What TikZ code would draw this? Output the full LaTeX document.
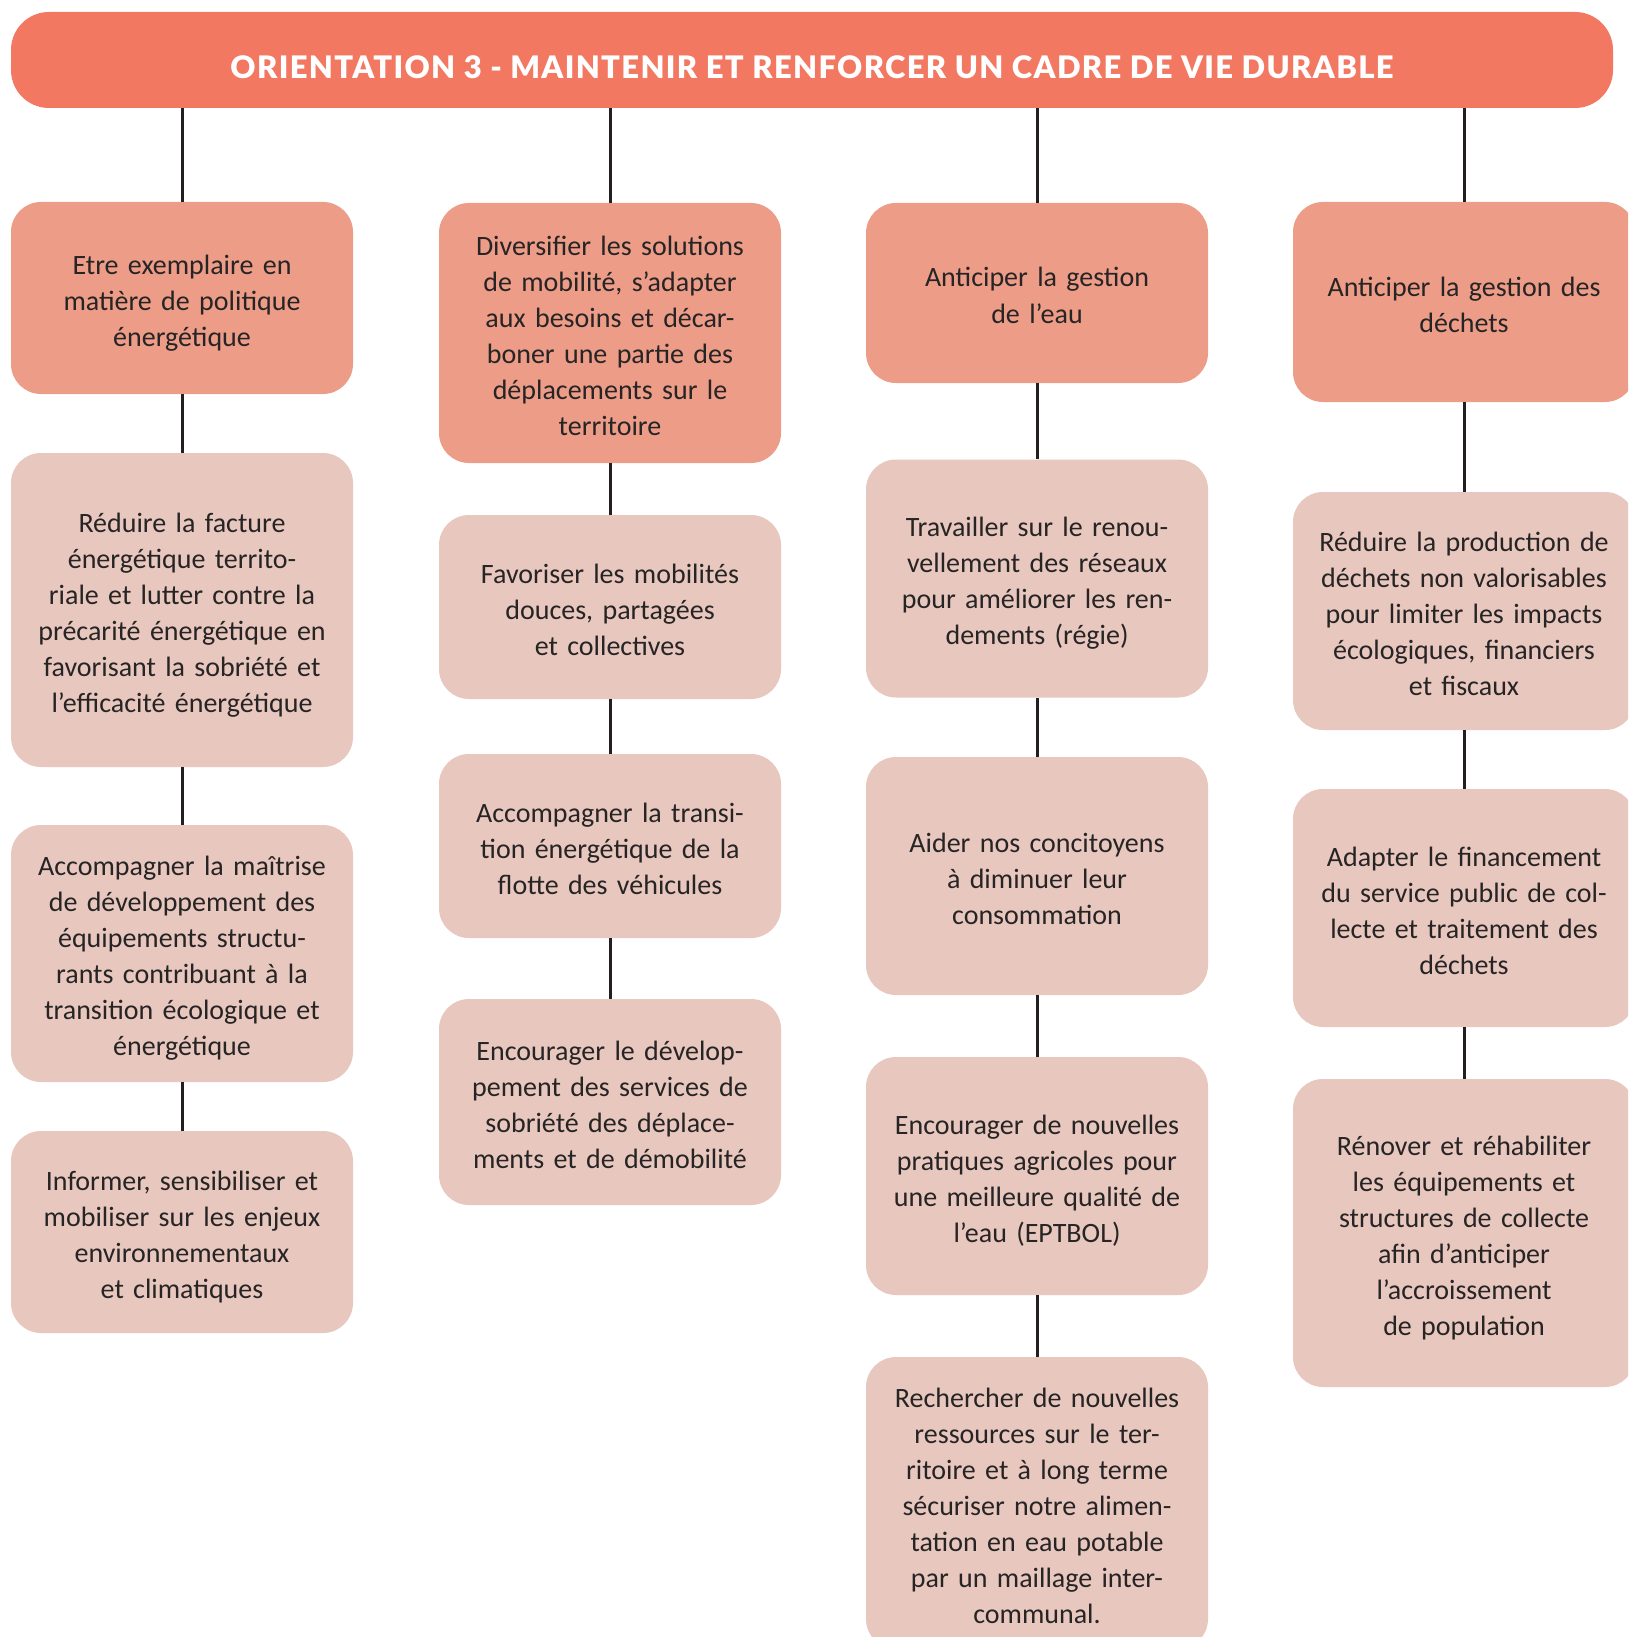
\documentclass[tikz,border=0pt]{standalone}
\usepackage{fontspec}
\setmainfont{Carlito}
\newfontfamily\hdrfont[LetterSpace=4.3, BoldFont={Lato Black}]{Lato}
\definecolor{hdrc}{RGB}{242,120,98}
\definecolor{darkc}{RGB}{237,156,136}
\definecolor{lightc}{RGB}{232,199,190}
\definecolor{txtc}{RGB}{38,36,36}
\definecolor{linec}{RGB}{35,31,32}
\begin{document}
\begin{tikzpicture}[x=1pt,y=-1pt,
  box/.style={rounded corners=30pt, minimum width=342pt, text width=330pt, align=center,
    inner sep=0pt, font=\fontsize{28}{36}\selectfont, text=txtc,
    execute at begin node={\rule{0pt}{30pt}},
    execute at end node={\rule[-6pt]{0pt}{6pt}}},
  topbox/.style={box, fill=darkc, minimum height=#1},
  subbox/.style={box, fill=lightc, minimum height=#1},
  conn/.style={draw=linec, line width=3pt}]
\clip (0,0) rectangle (1628,1637);
\fill[white] (0,0) rectangle (1628,1637);
\node[fill=hdrc, rounded corners=38pt, minimum width=1602pt, minimum height=96pt, inner sep=0pt] (hdr) at (812,60) {};
\node[anchor=base, text=white, inner sep=0pt, font=\hdrfont\bfseries\fontsize{31}{36}\selectfont] (title) at (812,79) {ORIENTATION 3 - MAINTENIR ET RENFORCER UN CADRE DE VIE DURABLE};

% Column 1
\node[topbox=192pt] (b11) at (182,298) {Etre exemplaire en\\matière de politique\\énergétique};
\node[subbox=314pt] (b12) at (182,610) {Réduire la facture\\énergétique territo-\\riale et lutter contre la\\précarité énergétique en\\favorisant la sobriété et\\l’efficacité énergétique};
\node[subbox=257pt] (b13) at (182,953.5) {Accompagner la maîtrise\\de développement des\\équipements structu-\\rants contribuant à la\\transition écologique et\\énergétique};
\node[subbox=202pt] (b14) at (182,1232) {Informer, sensibiliser et\\mobiliser sur les enjeux\\environnementaux\\et climatiques};

% Column 2
\node[topbox=260pt] (b21) at (610,333) {Diversifier les solutions\\de mobilité, s’adapter\\aux besoins et décar-\\boner une partie des\\déplacements sur le\\territoire};
\node[subbox=184pt] (b22) at (610,607) {Favoriser les mobilités\\douces, partagées\\et collectives};
\node[subbox=184pt] (b23) at (610,846) {Accompagner la transi-\\tion énergétique de la\\flotte des véhicules};
\node[subbox=206pt] (b24) at (610,1102) {Encourager le dévelop-\\pement des services de\\sobriété des déplace-\\ments et de démobilité};

% Column 3
\node[topbox=180pt] (b31) at (1037,293) {Anticiper la gestion\\de l’eau};
\node[subbox=238pt] (b32) at (1037,578.5) {Travailler sur le renou-\\vellement des réseaux\\pour améliorer les ren-\\dements (régie)};
\node[subbox=238pt] (b33) at (1037,876) {Aider nos concitoyens\\à diminuer leur\\consommation};
\node[subbox=238pt] (b34) at (1037,1176) {Encourager de nouvelles\\pratiques agricoles pour\\une meilleure qualité de\\l’eau (EPTBOL)};
\node[subbox=292pt] (b35) at (1037,1503) {Rechercher de nouvelles\\ressources sur le ter-\\ritoire et à long terme\\sécuriser notre alimen-\\tation en eau potable\\par un maillage inter-\\communal.};

% Column 4
\node[topbox=200pt] (b41) at (1464,302) {Anticiper la gestion des\\déchets};
\node[subbox=238pt] (b42) at (1464,611) {Réduire la production de\\déchets non valorisables\\pour limiter les impacts\\écologiques, financiers\\et fiscaux};
\node[subbox=238pt] (b43) at (1464,908) {Adapter le financement\\du service public de col-\\lecte et traitement des\\déchets};
\node[subbox=308pt] (b44) at (1464,1233) {Rénover et réhabiliter\\les équipements et\\structures de collecte\\afin d’anticiper\\l’accroissement\\de population};

% Connectors
\foreach \c in {b11,b21,b31,b41}
  \draw[conn] (\c.north |- hdr.south) -- (\c.north);
\draw[conn] (b11.south) -- (b12.north);
\draw[conn] (b12.south) -- (b13.north);
\draw[conn] (b13.south) -- (b14.north);
\draw[conn] (b21.south) -- (b22.north);
\draw[conn] (b22.south) -- (b23.north);
\draw[conn] (b23.south) -- (b24.north);
\draw[conn] (b31.south) -- (b32.north);
\draw[conn] (b32.south) -- (b33.north);
\draw[conn] (b33.south) -- (b34.north);
\draw[conn] (b34.south) -- (b35.north);
\draw[conn] (b41.south) -- (b42.north);
\draw[conn] (b42.south) -- (b43.north);
\draw[conn] (b43.south) -- (b44.north);
\end{tikzpicture}
\end{document}
